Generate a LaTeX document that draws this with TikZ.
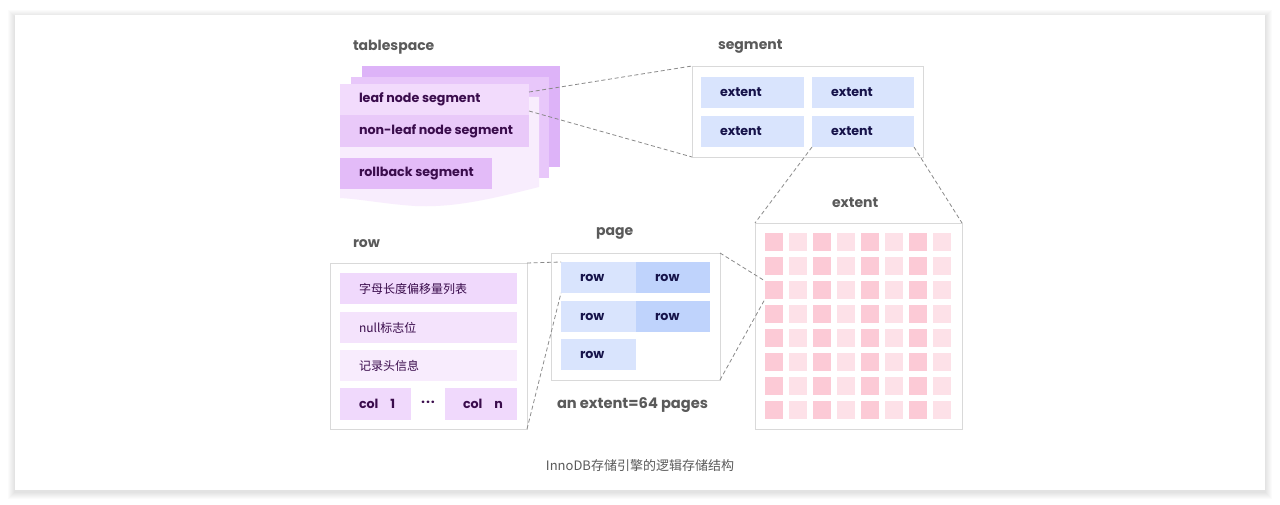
\documentclass[tikz,border=0pt]{standalone}
\usepackage{fontspec}
\setmainfont{Poppins}
\newfontfamily\cjk{Noto Sans CJK SC}

\definecolor{title}{HTML}{5A5A5A}
\definecolor{ink}{HTML}{16134A}
\definecolor{plum}{HTML}{3A0C4C}
\definecolor{frame}{HTML}{D9D9D9}
\definecolor{linkgray}{HTML}{8A8A8A}
\definecolor{sheetA}{HTML}{DDB3F8}
\definecolor{sheetB}{HTML}{E8C7FA}
\definecolor{sheetC}{HTML}{F8EDFD}
\definecolor{leafc}{HTML}{F2DBFC}
\definecolor{nleafc}{HTML}{E9C9F9}
\definecolor{rollc}{HTML}{E3BBF8}
\definecolor{blueA}{HTML}{D9E4FD}
\definecolor{blueB}{HTML}{BFD3FC}
\definecolor{pinkA}{HTML}{FCCAD6}
\definecolor{pinkB}{HTML}{FDE1E8}
\definecolor{fieldA}{HTML}{F0D9FC}
\definecolor{fieldB}{HTML}{F4E3FC}
\definecolor{fieldC}{HTML}{F8ECFD}

\begin{document}
\begin{tikzpicture}
  [x=0.75pt,y=-0.75pt,
   every node/.style={inner sep=0,outer sep=0},
   sz/.style 2 args={minimum width=#1*0.75pt,minimum height=#2*0.75pt},
   cell/.style={anchor=north west},
   box/.style={anchor=north west,draw=frame,fill=white,line width=0.6pt},
   tag/.style={anchor=west,xshift=14.25pt,text=ink,font=\bfseries\fontsize{9.5}{11}\selectfont},
   cjktag/.style={anchor=west,xshift=14.25pt,text=plum,font=\cjk\fontsize{9}{11}\selectfont},
   head/.style={anchor=west,text=title,font=\bfseries\fontsize{10.5}{12}\selectfont},
   link/.style={dash pattern=on 3pt off 2pt,draw=linkgray,line width=0.6pt}]
  \useasboundingbox (0,0) rectangle (1280,505);

  % card
  \foreach \i in {1,...,7}
    \fill[black,opacity=0.014] (15-\i,15-\i+2) rectangle (1265+\i,490+\i+2);
  \fill[white] (15,15) rectangle (1265,490);

  % tablespace
  \node[head] (tsp) at (353,47) {tablespace};
  \fill[sheetA] (362,66) rectangle (560,167);
  \fill[sheetB] (351,77) rectangle (549,178);
  \fill[sheetC] (340,97) -- (539,97) -- (539,187)
    .. controls (495,198) and (455,208) .. (415,206)
    .. controls (385,204) and (360,199) .. (340,198) -- cycle;
  \node[cell,sz={189}{31},fill=leafc,label={[tag,text=plum]west:leaf node segment}] (leaf) at (340,84) {};
  \node[cell,sz={189}{32},fill=nleafc,label={[tag,text=plum]west:non-leaf node segment}] (nleaf) at (340,115) {};
  \node[cell,sz={152}{31},fill=rollc,label={[tag,text=plum]west:rollback segment}] (roll) at (340,158) {};

  % segment
  \node[head] (segt) at (718,47) {segment};
  \node[box,sz={231}{91}] (seg) at (692,66) {};
  \node[cell,sz={103}{31},fill=blueA,label={[tag]west:extent}] (e1) at (701,77) {};
  \node[cell,sz={102}{31},fill=blueA,label={[tag]west:extent}] (e2) at (812,77) {};
  \node[cell,sz={103}{31},fill=blueA,label={[tag]west:extent}] (e3) at (701,116) {};
  \node[cell,sz={102}{31},fill=blueA,label={[tag]west:extent}] (e4) at (812,116) {};

  % extent
  \node[head] (extt) at (832,203) {extent};
  \node[box,sz={207}{206}] (ext) at (755,223) {};
  \foreach \r in {1,...,8}
    \foreach \c in {1,...,8} {
      \ifodd\c\def\sqcol{pinkA}\else\def\sqcol{pinkB}\fi
      \node[cell,sz={18}{18},fill=\sqcol] (sq-\r-\c) at ({765+24*(\c-1)},{233+24*(\r-1)}) {};
    }

  % page
  \node[head] (pgt) at (596,233) {page};
  \node[box,sz={169}{127}] (page) at (551,253) {};
  \node[cell,sz={75}{31},fill=blueA,label={[tag]west:row}] (r1) at (561,262) {};
  \node[cell,sz={74}{31},fill=blueB,label={[tag]west:row}] (r2) at (636,262) {};
  \node[cell,sz={75}{31},fill=blueA,label={[tag]west:row}] (r3) at (561,301) {};
  \node[cell,sz={74}{31},fill=blueB,label={[tag]west:row}] (r4) at (636,301) {};
  \node[cell,sz={75}{31},fill=blueA,label={[tag]west:row}] (r5) at (561,339) {};
  \node[head,font=\bfseries\fontsize{11}{13}\selectfont] (note) at (557,405) {an extent=64 pages};

  % row
  \node[head] (rowt) at (353,244) {row};
  \node[box,sz={197}{166}] (rowbox) at (330,263) {};
  \node[cell,sz={177}{31},fill=fieldA,label={[cjktag]west:字母长度偏移量列表}] (f1) at (340,273) {};
  \node[cell,sz={177}{31},fill=fieldB,label={[cjktag]west:null标志位}] (f2) at (340,312) {};
  \node[cell,sz={177}{31},fill=fieldC,label={[cjktag]west:记录头信息}] (f3) at (340,350) {};
  \node[cell,sz={71}{32},fill=fieldA,label={[tag,text=plum]west:col\hspace{9pt}1}] (col1) at (340,388) {};
  \node[cell,sz={72}{32},fill=fieldA,label={[tag,text=plum,xshift=-0.75pt]west:col\hspace{9pt}n}] (coln) at (445,388) {};
  \node[text=plum,font=\bfseries\fontsize{10}{12}\selectfont] (dots) at (428,404) {·\kern0.6pt·\kern0.6pt·};

  % links
  \draw[link] ([yshift=-6pt]leaf.north east) -- (seg.north west);
  \draw[link] ([yshift=3pt]leaf.south east) -- (seg.south west);
  \draw[link] (e4.south west) -- (ext.north west);
  \draw[link] (e4.south east) -- (ext.north east);
  \draw[link] (page.north east) -- (sq-3-1.north west);
  \draw[link] (page.south east) -- (sq-3-1.south west);
  \draw[link] (rowbox.north east) -- (r1.north west);
  \draw[link] (rowbox.south east) -- (r1.south west);

  \node[text=title,font=\cjk\fontsize{9.75}{12}\selectfont] (cap) at (640,466) {InnoDB存储引擎的逻辑存储结构};
\end{tikzpicture}
\end{document}
